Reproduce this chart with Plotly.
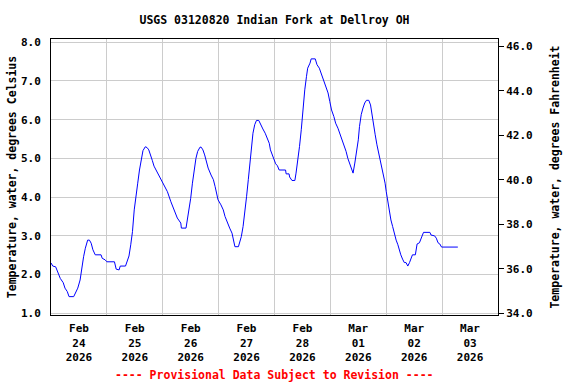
import plotly.graph_objects as go

times = [
    "2026-02-24 00:00", "2026-02-24 00:45", "2026-02-24 02:00", "2026-02-24 03:00", "2026-02-24 04:00",
    "2026-02-24 05:15", "2026-02-24 06:00", "2026-02-24 07:00", "2026-02-24 07:45", "2026-02-24 09:45",
    "2026-02-24 10:30", "2026-02-24 11:30", "2026-02-24 12:30", "2026-02-24 13:15", "2026-02-24 14:00",
    "2026-02-24 14:45", "2026-02-24 15:45", "2026-02-24 16:30", "2026-02-24 17:15", "2026-02-24 18:00",
    "2026-02-24 19:00", "2026-02-24 21:30", "2026-02-24 22:00", "2026-02-24 23:15", "2026-02-25 00:00",
    "2026-02-25 03:15", "2026-02-25 04:00", "2026-02-25 05:15", "2026-02-25 05:45", "2026-02-25 08:00",
    "2026-02-25 08:45", "2026-02-25 09:30", "2026-02-25 10:15", "2026-02-25 11:00", "2026-02-25 11:45",
    "2026-02-25 12:30", "2026-02-25 13:15", "2026-02-25 14:00", "2026-02-25 14:45", "2026-02-25 15:30",
    "2026-02-25 16:30", "2026-02-25 17:15", "2026-02-25 18:00", "2026-02-25 18:45", "2026-02-25 19:30",
    "2026-02-25 20:15", "2026-02-25 21:15", "2026-02-25 22:00", "2026-02-25 23:15", "2026-02-26 00:30",
    "2026-02-26 02:00", "2026-02-26 03:30", "2026-02-26 05:00", "2026-02-26 06:15", "2026-02-26 07:45",
    "2026-02-26 08:00", "2026-02-26 10:00", "2026-02-26 10:30", "2026-02-26 11:15", "2026-02-26 12:00",
    "2026-02-26 12:45", "2026-02-26 13:30", "2026-02-26 14:15", "2026-02-26 15:00", "2026-02-26 16:00",
    "2026-02-26 16:30", "2026-02-26 17:15", "2026-02-26 18:00", "2026-02-26 18:45", "2026-02-26 19:30",
    "2026-02-26 20:45", "2026-02-26 21:45", "2026-02-26 22:30", "2026-02-26 23:15", "2026-02-26 23:45",
    "2026-02-27 01:00", "2026-02-27 02:00", "2026-02-27 02:45", "2026-02-27 03:45", "2026-02-27 04:45",
    "2026-02-27 05:45", "2026-02-27 06:15", "2026-02-27 07:00", "2026-02-27 08:30", "2026-02-27 09:00",
    "2026-02-27 09:45", "2026-02-27 10:30", "2026-02-27 11:15", "2026-02-27 12:00", "2026-02-27 12:45",
    "2026-02-27 13:15", "2026-02-27 14:00", "2026-02-27 14:45", "2026-02-27 15:30", "2026-02-27 16:15",
    "2026-02-27 17:15", "2026-02-27 18:00", "2026-02-27 19:00", "2026-02-27 20:00", "2026-02-27 21:00",
    "2026-02-27 21:45", "2026-02-27 22:15", "2026-02-27 23:00", "2026-02-27 23:45", "2026-02-28 00:30",
    "2026-02-28 01:15", "2026-02-28 02:00", "2026-02-28 04:45", "2026-02-28 05:00", "2026-02-28 06:15",
    "2026-02-28 06:30", "2026-02-28 07:30", "2026-02-28 08:45", "2026-02-28 09:15", "2026-02-28 10:00",
    "2026-02-28 10:45", "2026-02-28 11:30", "2026-02-28 12:15", "2026-02-28 13:00", "2026-02-28 13:45",
    "2026-02-28 14:15", "2026-02-28 15:15", "2026-02-28 15:45", "2026-02-28 17:30", "2026-02-28 18:15",
    "2026-02-28 19:15", "2026-02-28 20:00", "2026-02-28 21:00", "2026-02-28 22:00", "2026-02-28 23:00",
    "2026-02-28 23:45", "2026-03-01 00:30", "2026-03-01 01:30", "2026-03-01 02:15", "2026-03-01 03:15",
    "2026-03-01 04:00", "2026-03-01 05:00", "2026-03-01 06:00", "2026-03-01 06:45", "2026-03-01 07:30",
    "2026-03-01 08:30", "2026-03-01 09:00", "2026-03-01 09:45", "2026-03-01 10:30", "2026-03-01 11:15",
    "2026-03-01 12:00", "2026-03-01 12:30", "2026-03-01 13:15", "2026-03-01 14:00", "2026-03-01 14:45",
    "2026-03-01 15:30", "2026-03-01 16:30", "2026-03-01 17:15", "2026-03-01 18:00", "2026-03-01 18:45",
    "2026-03-01 19:15", "2026-03-01 20:00", "2026-03-01 20:45", "2026-03-01 21:30", "2026-03-01 22:15",
    "2026-03-01 23:00", "2026-03-01 23:30", "2026-03-02 00:00", "2026-03-02 00:45", "2026-03-02 01:30",
    "2026-03-02 02:00", "2026-03-02 02:45", "2026-03-02 03:30", "2026-03-02 04:15", "2026-03-02 05:00",
    "2026-03-02 05:30", "2026-03-02 06:15", "2026-03-02 07:00", "2026-03-02 07:45", "2026-03-02 08:30",
    "2026-03-02 09:15", "2026-03-02 10:00", "2026-03-02 10:30", "2026-03-02 11:15", "2026-03-02 12:30",
    "2026-03-02 13:15", "2026-03-02 14:15", "2026-03-02 14:45", "2026-03-02 15:15", "2026-03-02 16:00",
    "2026-03-02 18:45", "2026-03-02 19:15", "2026-03-02 20:45", "2026-03-02 21:30", "2026-03-02 22:15",
    "2026-03-02 23:00", "2026-03-02 23:45", "2026-03-03 06:45",
]

temp_c = [
    2.30, 2.22, 2.20, 2.03, 1.90, 1.79, 1.65, 1.56, 1.43, 1.43,
    1.52, 1.65, 1.86, 2.20, 2.46, 2.68, 2.89, 2.89, 2.81, 2.64,
    2.51, 2.51, 2.42, 2.38, 2.33, 2.33, 2.14, 2.12, 2.22, 2.22,
    2.33, 2.48, 2.77, 3.11, 3.67, 4.10, 4.36, 4.70, 5.00, 5.20,
    5.30, 5.28, 5.22, 5.10, 4.95, 4.80, 4.68, 4.58, 4.45, 4.32,
    4.14, 3.88, 3.63, 3.46, 3.33, 3.20, 3.20, 3.37, 3.63, 3.97,
    4.36, 4.70, 5.00, 5.18, 5.29, 5.29, 5.22, 5.09, 4.92, 4.75,
    4.57, 4.45, 4.27, 4.10, 3.93, 3.80, 3.67, 3.50, 3.33, 3.20,
    3.07, 2.89, 2.72, 2.72, 2.81, 2.98, 3.24, 3.58, 4.01, 4.45,
    4.79, 5.22, 5.65, 5.87, 5.98, 5.98, 5.87, 5.76, 5.65, 5.52,
    5.39, 5.22, 5.09, 4.96, 4.86, 4.81, 4.70, 4.70, 4.60, 4.60,
    4.52, 4.43, 4.43, 4.62, 4.92, 5.31, 5.74, 6.34, 6.77, 7.12,
    7.33, 7.46, 7.57, 7.57, 7.42, 7.33, 7.20, 7.07, 6.90, 6.69,
    6.47, 6.25, 6.08, 5.91, 5.78, 5.65, 5.48, 5.35, 5.18, 5.00,
    4.83, 4.70, 4.62, 4.88, 5.14, 5.48, 5.82, 6.13, 6.30, 6.43,
    6.50, 6.50, 6.38, 6.13, 5.82, 5.61, 5.35, 5.14, 4.92, 4.75,
    4.58, 4.36, 4.14, 3.84, 3.63, 3.41, 3.24, 3.02, 2.89, 2.77,
    2.64, 2.51, 2.40, 2.31, 2.31, 2.22, 2.31, 2.40, 2.51, 2.51,
    2.79, 2.82, 2.91, 3.00, 3.09, 3.09, 3.02, 3.00, 2.94, 2.82,
    2.79, 2.71, 2.71,
]

temp_f = [c * 9 / 5 + 32 for c in temp_c]

title_text = "USGS 03120820 Indian Fork at Dellroy OH"
left_title = "Temperature, water, degrees Celsius"
right_title = "Temperature, water, degrees Fahrenheit"
footer = "---- Provisional Data Subject to Revision ----"

FONT = "DejaVu Sans Mono"

fig = go.Figure()
fig.add_trace(go.Scatter(x=times, y=temp_c, mode="lines",
                         line=dict(color="#0000FF", width=1),
                         showlegend=False, hoverinfo="skip"))
fig.add_trace(go.Scatter(x=times, y=temp_f, mode="lines", yaxis="y2",
                         line=dict(color="rgba(0,0,0,0)", width=0),
                         showlegend=False, hoverinfo="skip"))

fig.update_layout(
    width=576, height=384,
    margin=dict(l=51, r=78, t=39, b=69, autoexpand=False),
    paper_bgcolor="white", plot_bgcolor="white",
    font=dict(family=FONT, color="black", size=11, weight="bold"),
    title=dict(text=title_text, x=274.5 / 576, xanchor="center",
               y=1 - 20 / 384, yanchor="middle", yref="container",
               font=dict(family=FONT, size=11.5, weight="bold", color="black")),
    xaxis=dict(
        type="date", automargin=False,
        range=["2026-02-24 00:00", "2026-03-04 00:00"],
        tick0="2026-02-24", dtick=86400000,
        ticklabelmode="period",
        tickformat="%b<br>%d<br>%Y",
        showgrid=True, gridcolor="#CCCCCC", gridwidth=1,
        showline=True, linecolor="black", linewidth=1, mirror=True,
        ticks="", zeroline=False, ticklabelstandoff=3,
        tickfont=dict(family=FONT, size=11, weight="bold"),
    ),
    yaxis=dict(
        automargin=False,
        range=[0.956, 8.083], tick0=0, dtick=1, tickformat=".1f",
        showgrid=True, gridcolor="#CCCCCC", gridwidth=1,
        showline=True, linecolor="black", linewidth=1, mirror=True,
        ticks="", zeroline=False, ticklabelstandoff=7,
        tickfont=dict(family=FONT, size=11, weight="bold"),
        title=dict(text=left_title, standoff=1,
                   font=dict(family=FONT, size=11.5, weight="bold")),
    ),
    yaxis2=dict(
        automargin=False,
        overlaying="y", side="right",
        range=[33.92, 46.33], tick0=34, dtick=2, tickformat=".1f",
        showgrid=False, zeroline=False,
        showline=True, linecolor="black", linewidth=1,
        ticks="outside", ticklen=5, tickcolor="black",
        tickfont=dict(family=FONT, size=11, weight="bold"),
        title=dict(text=right_title, standoff=19,
                   font=dict(family=FONT, size=11.5, weight="bold")),
    ),
    annotations=[dict(
        text=footer, xref="paper", yref="paper",
        x=0.5, y=(315 - 375) / 276, xanchor="center", yanchor="middle",
        showarrow=False,
        font=dict(family=FONT, size=11.5, weight="bold", color="#FF0000"),
    )],
)

fig.write_html("out.html",
               config={"displayModeBar": False},
               post_script="document.body.style.margin='0';document.body.style.overflow='hidden';")
